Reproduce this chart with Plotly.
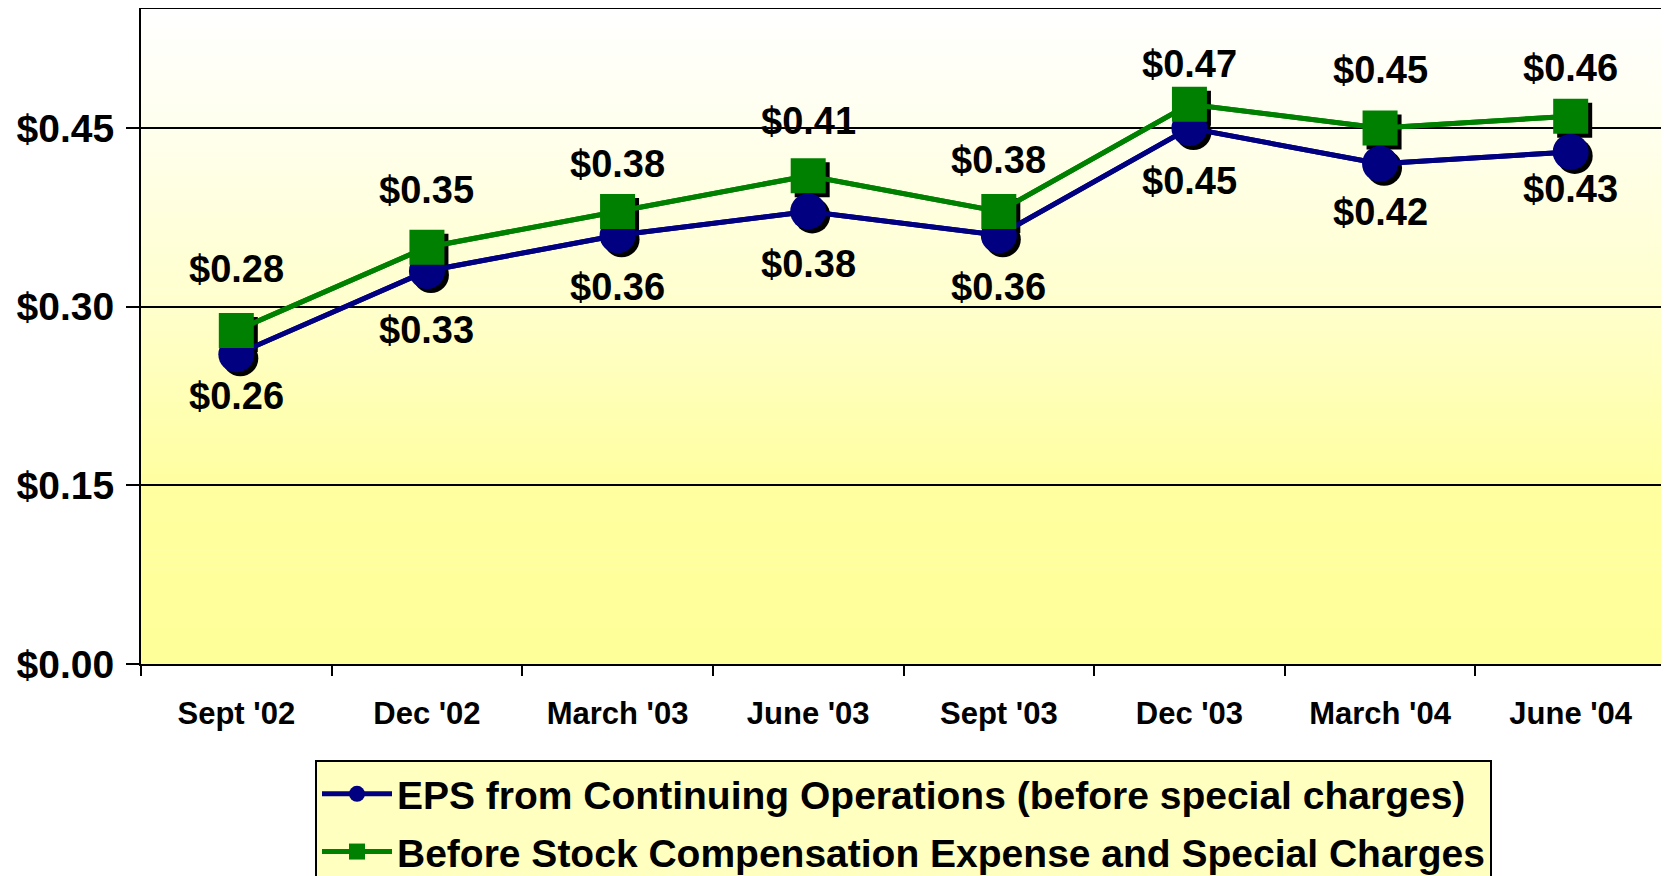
import plotly.graph_objects as go

# ---- data ----
CATEGORIES = ["Sept '02", "Dec '02", "March '03", "June '03", "Sept '03", "Dec '03", "March '04", "June '04"]
EPS_CONT = [0.26, 0.33, 0.36, 0.38, 0.36, 0.45, 0.42, 0.43]
EPS_BEFORE_STOCK = [0.28, 0.35, 0.38, 0.41, 0.38, 0.47, 0.45, 0.46]
NAME_CONT = "EPS from Continuing Operations (before special charges)"
NAME_BEFORE = "Before Stock Compensation Expense and Special Charges"
Y_TICKS = [0.00, 0.15, 0.30, 0.45]
Y_TICK_TEXT = ["$0.00", "$0.15", "$0.30", "$0.45"]

# ---- style ----
# the page body adds an 8px offset, so the figure is sized to fill the rest of the window
W, H = 1661, 868
ML, MR, MT, MB = 133, 3, 1, 212
Y_MAX = 0.55
BLUE = "#000080"
GREEN = "#008000"
FONT = "Liberation Sans, Arial, sans-serif"
LABEL_SHIFT_TOP = [62, 57, 47, 55, 51, 40, 58, 48]
LABEL_SHIFT_BOTTOM = [42, 59, 52, 53, 52, 53, 48, 37]

plot_w = W - ML - MR
plot_h = H - MT - MB
n = len(CATEGORIES)
dx = 4.0 * n / plot_w          # 4 px shadow offset in category units
dy = 4.0 * Y_MAX / plot_h      # 4 px shadow offset in data units

fig = go.Figure()

# base lines (also anchors the display axes)
for vals, col in [(EPS_CONT, BLUE), (EPS_BEFORE_STOCK, GREEN)]:
    fig.add_trace(go.Scatter(x=CATEGORIES, y=vals, mode="lines",
                             line=dict(color=col, width=5), showlegend=False,
                             hoverinfo="skip", xaxis="x", yaxis="y"))

# shadows
fig.add_trace(go.Scatter(x=CATEGORIES, y=EPS_CONT, mode="markers",
                         marker=dict(symbol="circle", size=36, color="black"),
                         showlegend=False, hoverinfo="skip", xaxis="x2", yaxis="y2"))
fig.add_trace(go.Scatter(x=CATEGORIES, y=EPS_BEFORE_STOCK, mode="markers",
                         marker=dict(symbol="square", size=35, color="black"),
                         showlegend=False, hoverinfo="skip", xaxis="x2", yaxis="y2"))

# main traces
fig.add_trace(go.Scatter(x=CATEGORIES, y=EPS_CONT, mode="lines+markers", name=NAME_CONT,
                         line=dict(color=BLUE, width=5),
                         marker=dict(symbol="circle", size=36, color=BLUE),
                         legendgroup="a", xaxis="x3", yaxis="y3"))
fig.add_trace(go.Scatter(x=CATEGORIES, y=EPS_BEFORE_STOCK, mode="lines+markers", name=NAME_BEFORE,
                         line=dict(color=GREEN, width=5),
                         marker=dict(symbol="square", size=35, color=GREEN),
                         legendgroup="b", xaxis="x3", yaxis="y3"))

# data labels
label_font = dict(family=FONT, size=38, color="black", weight="bold")
annotations = []
for i, c in enumerate(CATEGORIES):
    annotations.append(dict(x=c, y=EPS_BEFORE_STOCK[i], xref="x", yref="y",
                            text="$%.2f" % EPS_BEFORE_STOCK[i], showarrow=False,
                            yshift=LABEL_SHIFT_TOP[i], yanchor="middle", font=label_font))
    annotations.append(dict(x=c, y=EPS_CONT[i], xref="x", yref="y",
                            text="$%.2f" % EPS_CONT[i], showarrow=False,
                            yshift=-LABEL_SHIFT_BOTTOM[i], yanchor="middle", font=label_font))

# gradient background bands
def lerp(c0, c1, t):
    return tuple(int(round(a + (b - a) * t)) for a, b in zip(c0, c1))

stops = [(0.0, (255, 255, 153)), (0.15, (255, 255, 160)), (0.30, (255, 255, 204)),
         (0.45, (255, 255, 238)), (Y_MAX, (255, 255, 255))]
shapes = []
steps = 110
for k in range(steps):
    y0 = Y_MAX * k / steps
    y1 = Y_MAX * (k + 1) / steps
    ym = (y0 + y1) / 2
    for j in range(len(stops) - 1):
        if stops[j][0] <= ym <= stops[j + 1][0]:
            t = (ym - stops[j][0]) / (stops[j + 1][0] - stops[j][0])
            col = lerp(stops[j][1], stops[j + 1][1], t)
            break
    shapes.append(dict(type="rect", xref="paper", yref="y", x0=0, x1=1, y0=y0, y1=y1 + 0.0005,
                       fillcolor="rgb(%d,%d,%d)" % col, line=dict(width=0), layer="below"))

hidden = dict(visible=False, showgrid=False, zeroline=False)

fig.update_layout(
    width=W, height=H,
    margin=dict(l=ML, r=MR, t=MT, b=MB, autoexpand=False),
    paper_bgcolor="white",
    plot_bgcolor="rgba(0,0,0,0)",
    font=dict(family=FONT, color="black"),
    showlegend=True,
    xaxis=dict(type="category", categoryarray=CATEGORIES, range=[-0.5, n - 0.5],
               tickson="boundaries", ticks="outside", ticklen=10, tickwidth=2, tickcolor="black",
               showline=True, linewidth=2, linecolor="black", mirror=True,
               showgrid=False, zeroline=False, ticklabelstandoff=21,
               tickfont=dict(family=FONT, size=31, color="black", weight="bold")),
    yaxis=dict(range=[0, Y_MAX], tickvals=Y_TICKS, ticktext=Y_TICK_TEXT,
               ticks="outside", ticklen=13, tickwidth=2, tickcolor="black",
               showline=True, linewidth=2, linecolor="black", mirror=True,
               showgrid=True, gridcolor="black", gridwidth=1.5, zeroline=False,
               ticklabelstandoff=4,
               tickfont=dict(family=FONT, size=39, color="black", weight="bold")),
    xaxis2=dict(type="category", categoryarray=CATEGORIES, overlaying="x",
                range=[-0.5 - dx, n - 0.5 - dx], **hidden),
    yaxis2=dict(overlaying="y", range=[dy, Y_MAX + dy], **hidden),
    xaxis3=dict(type="category", categoryarray=CATEGORIES, overlaying="x",
                range=[-0.5, n - 0.5], **hidden),
    yaxis3=dict(overlaying="y", range=[0, Y_MAX], **hidden),
    legend=dict(x=(307 - ML) / plot_w, y=-(752 - (H - MB)) / plot_h,
                xanchor="left", yanchor="top",
                bgcolor="#FFFFC0", bordercolor="black", borderwidth=2,
                traceorder="grouped", tracegroupgap=4, itemwidth=70,
                font=dict(family=FONT, size=39, color="black", weight="bold")),
    annotations=annotations,
    shapes=shapes,
)

fig.write_html("out.html")
